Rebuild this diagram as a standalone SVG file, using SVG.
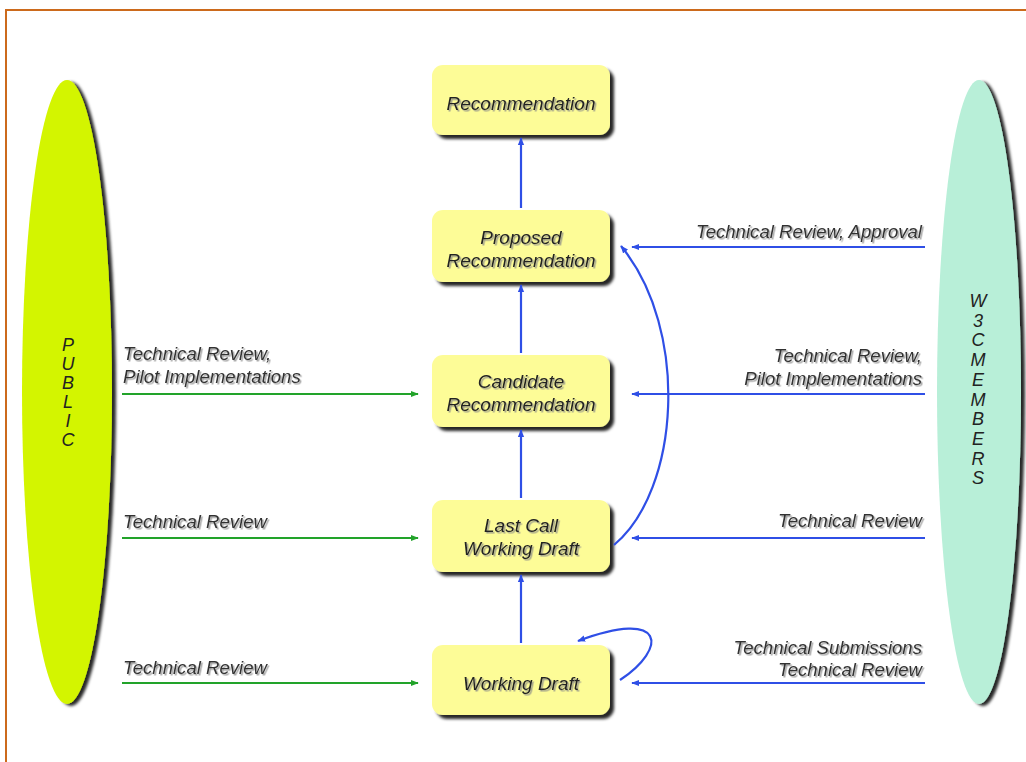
<svg xmlns="http://www.w3.org/2000/svg" width="1026" height="762" viewBox="0 0 1026 762">
<defs>
<filter id="boxsh" x="-10%" y="-10%" width="130%" height="140%"><feDropShadow dx="4" dy="4" stdDeviation="1.5" flood-color="#000" flood-opacity="0.85"/></filter>
<filter id="elsh" x="-20%" y="-5%" width="150%" height="110%"><feDropShadow dx="4" dy="2" stdDeviation="1.5" flood-color="#000" flood-opacity="0.85"/></filter>
<filter id="txsh" x="-5%" y="-20%" width="115%" height="150%"><feDropShadow dx="1.5" dy="1.5" stdDeviation="0.6" flood-color="#888" flood-opacity="0.8"/></filter>
<marker id="ab" viewBox="0 0 10 10" refX="9" refY="5" markerWidth="8" markerHeight="8" orient="auto" markerUnits="userSpaceOnUse"><path d="M0,1 L10,5 L0,9 z" fill="#2f4fe6"/></marker>
<marker id="ag" viewBox="0 0 10 10" refX="9" refY="5" markerWidth="8" markerHeight="8" orient="auto" markerUnits="userSpaceOnUse"><path d="M0,1 L10,5 L0,9 z" fill="#22a32a"/></marker>
</defs>
<style>
.box{fill:#fdfc97;filter:url(#boxsh)}
.bt{font-family:"Liberation Sans",Arial,sans-serif;font-style:italic;font-size:19px;fill:#222;text-anchor:middle;filter:url(#txsh)}
.lb{font-family:"Liberation Sans",Arial,sans-serif;font-style:italic;font-size:18.6px;fill:#333;filter:url(#txsh)}
.vt{font-family:"Liberation Sans",Arial,sans-serif;font-style:italic;font-size:18px;fill:#222;text-anchor:middle}
.bl{stroke:#2f4fe6;stroke-width:2.2;fill:none}
.gr{stroke:#22a32a;stroke-width:2.2;fill:none}
</style>
<rect x="0" y="0" width="1026" height="762" fill="#fff"/>
<rect x="6" y="10" width="1030" height="760" fill="none" stroke="#cc6a1c" stroke-width="2"/>

<g id="public">
<ellipse cx="67" cy="392" rx="45" ry="312" fill="#d3f500" filter="url(#elsh)"/>
<text class="vt"><tspan x="68" y="351">P</tspan><tspan x="68" y="370">U</tspan><tspan x="68" y="389">B</tspan><tspan x="68" y="408">L</tspan><tspan x="68" y="427">I</tspan><tspan x="68" y="446">C</tspan></text>
</g>
<g id="members">
<ellipse cx="979" cy="392" rx="42" ry="312" fill="#b8efd8" filter="url(#elsh)"/>
<text class="vt"><tspan x="978" y="307">W</tspan><tspan x="978" y="327">3</tspan><tspan x="978" y="346">C</tspan><tspan x="978" y="366">M</tspan><tspan x="978" y="386">E</tspan><tspan x="978" y="406">M</tspan><tspan x="978" y="425">B</tspan><tspan x="978" y="445">E</tspan><tspan x="978" y="465">R</tspan><tspan x="978" y="484">S</tspan></text>
</g>

<g id="rec"><rect class="box" x="432" y="65" width="178" height="70" rx="11"/><text class="bt" x="521" y="110">Recommendation</text></g>
<g id="pr"><rect class="box" x="432" y="210" width="178" height="72" rx="11"/><text class="bt" x="521" y="244">Proposed</text><text class="bt" x="521" y="267">Recommendation</text></g>
<g id="cr"><rect class="box" x="432" y="355" width="178" height="72" rx="11"/><text class="bt" x="521" y="388">Candidate</text><text class="bt" x="521" y="411">Recommendation</text></g>
<g id="lc"><rect class="box" x="432" y="500" width="178" height="72" rx="11"/><text class="bt" x="521" y="532">Last Call</text><text class="bt" x="521" y="555">Working Draft</text></g>
<g id="wd"><rect class="box" x="432" y="645" width="178" height="70" rx="11"/><text class="bt" x="521" y="690">Working Draft</text></g>

<g id="connectors">
<line class="bl" x1="521" y1="208" x2="521" y2="138" marker-end="url(#ab)"/>
<line class="bl" x1="521" y1="353" x2="521" y2="285" marker-end="url(#ab)"/>
<line class="bl" x1="521" y1="498" x2="521" y2="430" marker-end="url(#ab)"/>
<line class="bl" x1="521" y1="643" x2="521" y2="575" marker-end="url(#ab)"/>
<path class="bl" d="M614 545 C680 490 690 330 621 246" marker-end="url(#ab)"/>
<path class="bl" d="M620 680 C668 648 666 608 578 641" marker-end="url(#ab)"/>
<line class="bl" x1="925" y1="247" x2="632" y2="247" marker-end="url(#ab)"/>
<line class="bl" x1="925" y1="394" x2="632" y2="394" marker-end="url(#ab)"/>
<line class="bl" x1="925" y1="538" x2="632" y2="538" marker-end="url(#ab)"/>
<line class="bl" x1="925" y1="683" x2="632" y2="683" marker-end="url(#ab)"/>
<line class="gr" x1="122" y1="394" x2="418" y2="394" marker-end="url(#ag)"/>
<line class="gr" x1="122" y1="538" x2="418" y2="538" marker-end="url(#ag)"/>
<line class="gr" x1="122" y1="683" x2="418" y2="683" marker-end="url(#ag)"/>
</g>

<g id="labels">
<text class="lb" x="922" y="238" text-anchor="end">Technical Review, Approval</text>
<text class="lb" x="922" y="362" text-anchor="end">Technical Review,</text>
<text class="lb" x="922" y="385" text-anchor="end">Pilot Implementations</text>
<text class="lb" x="922" y="527" text-anchor="end">Technical Review</text>
<text class="lb" x="922" y="654" text-anchor="end">Technical Submissions</text>
<text class="lb" x="922" y="676" text-anchor="end">Technical Review</text>
<text class="lb" x="123" y="360">Technical Review,</text>
<text class="lb" x="123" y="383">Pilot Implementations</text>
<text class="lb" x="123" y="528">Technical Review</text>
<text class="lb" x="123" y="674">Technical Review</text>
</g>
</svg>
